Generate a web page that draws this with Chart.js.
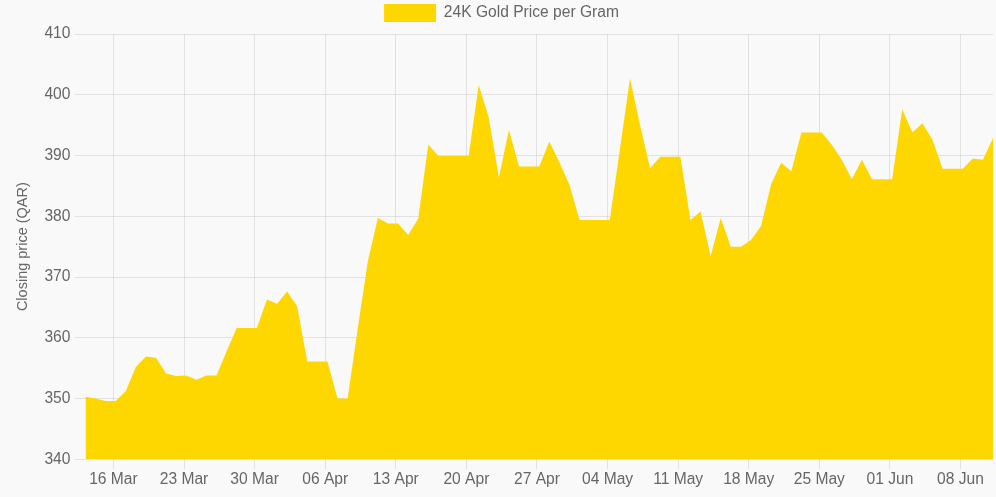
<!DOCTYPE html>
<html>
<head>
  <meta charset="utf-8">
  <title>24K Gold Price per Gram</title>
  <style>
    html, body { margin: 0; padding: 0; background: #f9f9f9; }
    canvas { display: block; }
  </style>
</head>
<body>
<script src="https://cdn.jsdelivr.net/npm/chart.js@4/dist/chart.umd.min.js"></script>
<canvas id="goldChart" width="996" height="497"></canvas>
<script>
  // one closing price per day, 13 Mar .. 11 Jun
  var dates = [
    '13 Mar','14 Mar','15 Mar','16 Mar','17 Mar','18 Mar','19 Mar','20 Mar','21 Mar','22 Mar',
    '23 Mar','24 Mar','25 Mar','26 Mar','27 Mar','28 Mar','29 Mar','30 Mar','31 Mar','01 Apr',
    '02 Apr','03 Apr','04 Apr','05 Apr','06 Apr','07 Apr','08 Apr','09 Apr','10 Apr','11 Apr',
    '12 Apr','13 Apr','14 Apr','15 Apr','16 Apr','17 Apr','18 Apr','19 Apr','20 Apr','21 Apr',
    '22 Apr','23 Apr','24 Apr','25 Apr','26 Apr','27 Apr','28 Apr','29 Apr','30 Apr','01 May',
    '02 May','03 May','04 May','05 May','06 May','07 May','08 May','09 May','10 May','11 May',
    '12 May','13 May','14 May','15 May','16 May','17 May','18 May','19 May','20 May','21 May',
    '22 May','23 May','24 May','25 May','26 May','27 May','28 May','29 May','30 May','31 May',
    '01 Jun','02 Jun','03 Jun','04 Jun','05 Jun','06 Jun','07 Jun','08 Jun','09 Jun','10 Jun',
    '11 Jun'
  ];

  var prices = [
    350.3, 350.0, 349.6, 349.6, 351.2, 355.2, 356.9, 356.7, 354.1, 353.7,
    353.8, 353.1, 353.8, 353.8, 357.8, 361.6, 361.6, 361.6, 366.3, 365.6,
    367.6, 365.2, 356.1, 356.1, 356.1, 350.0, 350.0, 361.5, 372.5, 379.7,
    378.8, 378.8, 376.9, 379.6, 391.8, 389.9, 389.9, 389.9, 389.9, 401.6,
    396.2, 386.4, 394.2, 388.2, 388.2, 388.2, 392.3, 388.9, 385.2, 379.4,
    379.4, 379.4, 379.4, 391.0, 402.7, 395.0, 387.9, 389.8, 389.8, 389.8,
    379.4, 380.8, 373.4, 379.7, 375.0, 375.0, 376.1, 378.4, 385.3, 388.8,
    387.4, 393.8, 393.8, 393.8, 391.8, 389.3, 386.1, 389.3, 386.1, 386.1,
    386.1, 397.6, 393.8, 395.3, 392.6, 387.8, 387.8, 387.8, 389.5, 389.3,
    392.9
  ];

  var tickLabels = ['16 Mar','23 Mar','30 Mar','06 Apr','13 Apr','20 Apr','27 Apr',
                    '04 May','11 May','18 May','25 May','01 Jun','08 Jun'];

  // prices are stamped a few hours after midnight
  var DAY_SHIFT = 0.22;

  var points = prices.map(function(p, i) {
    return { x: i + DAY_SHIFT, y: p };
  });

  var tickDays = tickLabels.map(function(l) { return dates.indexOf(l); });

  var FONT = { family: "'Liberation Sans', Arial, sans-serif", size: 15.6 };

  // a bit more room under the legend
  var legendGap = {
    id: 'legendGap',
    beforeInit: function(chart) {
      var fit = chart.legend.fit;
      chart.legend.fit = function() {
        fit.bind(chart.legend)();
        this.height += 2;
      };
    }
  };

  var ctx = document.getElementById('goldChart');
  var myChart = new Chart(ctx, {
    type: 'line',
    data: {
      datasets: [{
        label: '24K Gold Price per Gram',
        data: points,
        fill: 'start',
        backgroundColor: '#FFD700',
        borderColor: '#FFD700',
        borderWidth: 0,
        pointRadius: 0,
        tension: 0
      }]
    },
    plugins: [legendGap],
    options: {
      responsive: false,
      animation: false,
      layout: { padding: { left: 10, right: 3, top: 0, bottom: 7 } },
      plugins: {
        legend: {
          labels: {
            font: FONT,
            color: '#666',
            boxWidth: 52,
            boxHeight: 18,
            padding: 4
          }
        },
        tooltip: { enabled: false }
      },
      scales: {
        x: {
          type: 'linear',
          min: DAY_SHIFT,
          max: prices.length - 1 + DAY_SHIFT,
          afterBuildTicks: function(scale) {
            scale.ticks = tickDays.map(function(d) { return { value: d }; });
          },
          ticks: {
            font: FONT,
            color: '#666',
            maxRotation: 0,
            autoSkip: false,
            padding: 1,
            callback: function(value) { return dates[value]; }
          },
          grid: { color: 'rgba(0,0,0,0.09)', tickLength: 10 },
          border: { display: false }
        },
        y: {
          min: 340,
          max: 410,
          ticks: { stepSize: 10, font: FONT, color: '#666', padding: 4 },
          grid: { color: 'rgba(0,0,0,0.09)', tickLength: 11 },
          border: { display: false },
          title: {
            display: true,
            text: 'Closing price (QAR)',
            font: { family: FONT.family, size: 14.5 },
            color: '#666',
            padding: { top: 4, bottom: 9 }
          }
        }
      }
    }
  });
</script>
</body>
</html>
